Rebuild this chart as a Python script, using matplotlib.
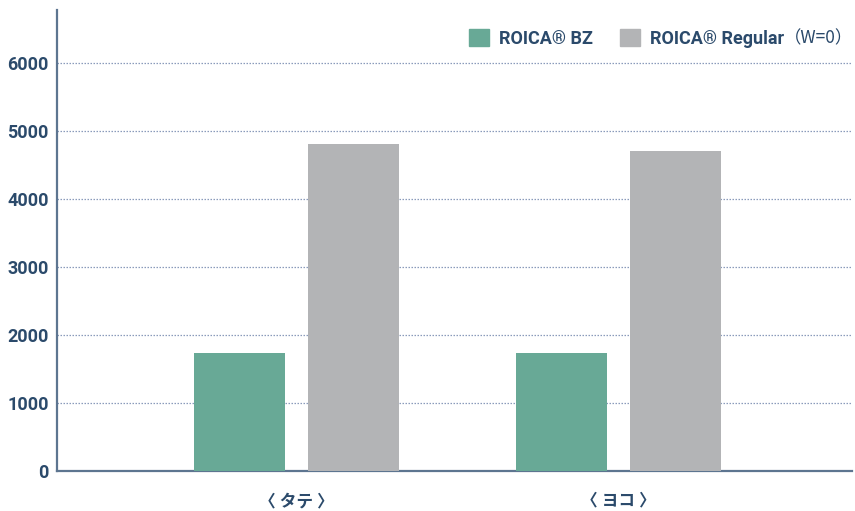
import matplotlib.pyplot as plt
import numpy as np
from matplotlib.patches import Patch

plt.rcParams['font.family'] = ['Roboto', 'Noto Sans CJK JP', 'DejaVu Sans']

# data
categories = ["〈 タテ 〉", "〈 ヨコ 〉"]
series_names = ["ROICA® BZ", "ROICA® Regular"]
regular_note = "（W=0）"
bz_values = [1735, 1735]
regular_values = [4805, 4705]
y_ticks = [0, 1000, 2000, 3000, 4000, 5000, 6000]

text_color = "#2b4a6b"
spine_color = "#5d7590"
green = "#68a996"
gray = "#b3b4b6"

W, H = 855, 511
fig = plt.figure(figsize=(W / 100, H / 100), dpi=100)
ax = fig.add_axes([57 / W, 1 - 471 / H, 795 / W, 461 / H])

x = np.arange(len(categories))
width = 0.283
offset = 0.177
ax.bar(x - offset, bz_values, width, color=green, zorder=3)
ax.bar(x + offset, regular_values, width, color=gray, zorder=3)

ax.set_xlim(-0.745, 1.725)
ax.set_ylim(0, 6780)
ax.set_yticks(y_ticks)
ax.set_xticks(x)
ax.set_xticklabels(categories)

for t in ax.get_yticklabels():
    t.set_fontweight("bold")
for t in ax.get_xticklabels():
    t.set_fontweight("bold")
ax.tick_params(axis="y", length=0, pad=6, labelsize=13, labelcolor=text_color)
ax.tick_params(axis="x", length=0, pad=16, labelsize=12, labelcolor=text_color)

# grid lines
for v in y_ticks[1:]:
    ax.axhline(v, color="#8a9bbb", linestyle=(0, (1.2, 1.2)), linewidth=0.9, zorder=1)

for s in ["top", "right"]:
    ax.spines[s].set_visible(False)
for s in ["left", "bottom"]:
    ax.spines[s].set_color(spine_color)
    ax.spines[s].set_linewidth(1.6)

# legend, then the "(W=0)" note after the second label
handles = [Patch(color=green), Patch(color=gray)]
leg_kw = dict(loc="upper right", ncol=2, frameon=False,
              handlelength=1.1, handleheight=1.1, handletextpad=0.55,
              columnspacing=1.5, borderaxespad=0.0, borderpad=0.0,
              prop={"weight": "bold", "size": 13})
leg_top = 1 - 29 / H
leg = fig.legend(handles, series_names, bbox_to_anchor=(800 / W, leg_top), **leg_kw)
for t in leg.get_texts():
    t.set_color(text_color)

fig.canvas.draw()
renderer = fig.canvas.get_renderer()
bb = leg.get_texts()[1].get_window_extent(renderer)
note = fig.text(bb.x1 / W, bb.y0 / H, regular_note, ha="left", va="bottom",
                fontsize=12.5, color=text_color,
                family=["Noto Sans CJK JP", "DejaVu Sans"])
nb = note.get_window_extent(renderer)
shift = 853 - nb.x1
leg.set_bbox_to_anchor(((800 + shift) / W, leg_top), transform=fig.transFigure)
fig.canvas.draw()
bb = leg.get_texts()[1].get_window_extent(renderer)
note.set_position((bb.x1 / W, bb.y0 / H))

fig.savefig("out.png", dpi=100)
